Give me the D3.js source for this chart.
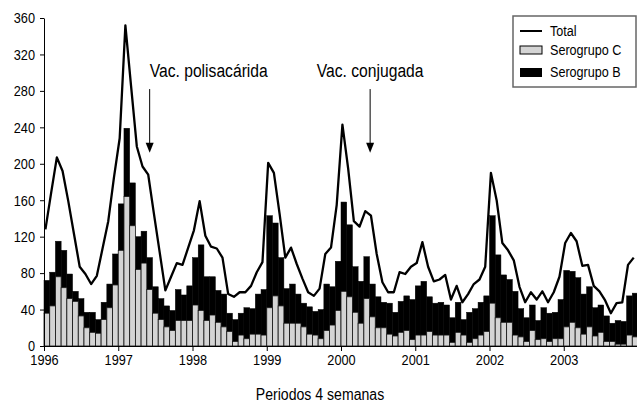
<!DOCTYPE html>
<html>
<head>
<meta charset="utf-8">
<script src="https://cdn.jsdelivr.net/npm/d3@7"></script>
<style>
  body { margin: 0; background: #fff; }
  svg text { font-family: "Liberation Sans", Arial, sans-serif; fill: #000; }
</style>
</head>
<body>
<svg id="chart" width="637" height="404"></svg>
<script>
// cases per 4-week period, 13 periods per year, 1996-2003
const serogrupoC = [
  36, 44, 76, 64, 52, 49, 33, 20, 15, 14, 29, 42, 67,
  105, 164, 132, 84, 91, 62, 36, 29, 21, 17, 28, 28, 28,
  45, 39, 28, 34, 26, 21, 16, 5, 12, 8, 13, 13, 12,
  42, 55, 44, 25, 25, 25, 21, 13, 12, 8, 17, 23, 39,
  60, 54, 37, 25, 52, 32, 20, 20, 13, 11, 15, 17, 7,
  12, 12, 16, 12, 12, 12, 4, 15, 12, 4, 8, 12, 16,
  47, 31, 26, 26, 12, 10, 5, 17, 7, 8, 5, 8, 8,
  21, 26, 20, 13, 21, 11, 15, 5, 5, 2, 2, 12, 10
];
const serogrupoB = [
  36, 37, 39, 41, 27, 11, 19, 17, 22, 15, 19, 26, 34,
  51, 75, 47, 36, 35, 35, 29, 23, 23, 22, 34, 28, 38,
  52, 72, 48, 42, 35, 36, 20, 24, 24, 34, 28, 44, 50,
  101, 80, 53, 38, 43, 32, 26, 30, 26, 32, 51, 42, 54,
  98, 79, 50, 46, 46, 36, 34, 28, 34, 26, 34, 38, 44,
  54, 59, 38, 35, 36, 33, 27, 33, 17, 33, 33, 36, 39,
  96, 69, 52, 47, 48, 31, 26, 28, 21, 34, 31, 29, 43,
  62, 56, 55, 44, 44, 31, 30, 28, 20, 26, 25, 43, 48
];
const total = [
  128, 168, 207, 192, 159, 123, 87, 79, 68, 77, 107, 137, 185,
  228, 352, 285, 219, 197, 188, 145, 103, 61, 76, 91, 89, 108,
  127, 159, 121, 109, 107, 97, 57, 54, 59, 59, 66, 81, 92,
  201, 190, 145, 97, 108, 90, 74, 59, 55, 63, 101, 108, 155,
  243, 195, 137, 131, 148, 143, 101, 70, 59, 59, 81, 79, 87,
  91, 114, 87, 71, 73, 78, 51, 66, 48, 57, 68, 73, 87,
  190, 160, 113, 105, 94, 65, 48, 59, 51, 60, 48, 59, 76,
  113, 124, 115, 88, 89, 66, 60, 50, 36, 47, 48, 89, 97
];
const years = ["1996", "1997", "1998", "1999", "2000", "2001", "2002", "2003"];
const yTicks = [0, 40, 80, 120, 160, 200, 240, 280, 320, 360];
const notes = [
  { label: "Vac. polisacárida", period: 18.5, anchor: "start" },
  { label: "Vac. conjugada", period: 57.1, anchor: "middle" }
];

// the reference font is a condensed face: squeeze Liberation Sans to match
function squeeze(sel, f) {
  sel.each(function () {
    const w = this.getComputedTextLength();
    this.setAttribute("textLength", w * f);
    this.setAttribute("lengthAdjust", "spacingAndGlyphs");
  });
}

const periods = d3.range(total.length);
const svg = d3.select("#chart");

const x = d3.scaleBand().domain(periods).range([44, 638]).padding(0);
const xLin = d3.scaleLinear().domain([0, periods.length]).range([44, 638]);
const y = d3.scaleLinear().domain([0, 360]).range([346, 18]);
const bw = x.bandwidth();

// stacked bars: C at the bottom, B on top
svg.append("g").selectAll("rect")
  .data(periods)
  .enter().append("rect")
  .attr("x", i => x(i))
  .attr("y", i => y(serogrupoC[i] + serogrupoB[i]))
  .attr("width", bw)
  .attr("height", i => y(serogrupoC[i]) - y(serogrupoC[i] + serogrupoB[i]))
  .attr("fill", "#000")
  .attr("stroke", "#000")
  .attr("stroke-width", 0.5);

svg.append("g").selectAll("rect")
  .data(periods)
  .enter().append("rect")
  .attr("x", i => x(i))
  .attr("y", i => y(serogrupoC[i]))
  .attr("width", bw)
  .attr("height", i => y(0) - y(serogrupoC[i]))
  .attr("fill", "#d4d4d4")
  .attr("stroke", "#111")
  .attr("stroke-width", 0.8);

// total line
const line = d3.line()
  .x(i => x(i) + bw * 0.25)
  .y(i => y(total[i]));

svg.append("path")
  .datum(periods)
  .attr("d", line)
  .attr("fill", "none")
  .attr("stroke", "#000")
  .attr("stroke-width", 2.3)
  .attr("stroke-linejoin", "round");

// axes
const yAxis = svg.append("g")
  .attr("transform", "translate(44,0)")
  .call(d3.axisLeft(y).tickValues(yTicks).tickSize(4).tickSizeOuter(0));
yAxis.selectAll("text").attr("font-size", 15).attr("x", -9);
squeeze(yAxis.selectAll("text"), 0.85);

const xAxis = svg.append("g")
  .attr("transform", "translate(0,346)")
  .call(d3.axisBottom(xLin)
    .tickValues(years.map((d, k) => k * 13))
    .tickFormat((d, k) => years[k])
    .tickSize(5).tickSizeOuter(0));
xAxis.selectAll("text").attr("font-size", 15).attr("y", 8);
squeeze(xAxis.selectAll("text"), 0.85);
svg.selectAll(".domain, .tick line").attr("stroke", "#000").attr("stroke-width", 1);

const title = svg.append("text")
  .attr("x", 320).attr("y", 400)
  .attr("text-anchor", "middle")
  .attr("font-size", 16)
  .text("Periodos 4 semanas");
squeeze(title, 0.88);

// vaccine annotations
const ann = svg.append("g").selectAll("g").data(notes).enter().append("g");
const annText = ann.append("text")
  .attr("x", d => xLin(d.period))
  .attr("y", y(295))
  .attr("text-anchor", d => d.anchor)
  .attr("font-size", 18)
  .text(d => d.label);
squeeze(annText, 0.87);
ann.append("line")
  .attr("x1", d => xLin(d.period)).attr("x2", d => xLin(d.period))
  .attr("y1", y(282)).attr("y2", y(220))
  .attr("stroke", "#000").attr("stroke-width", 1);
ann.append("path")
  .attr("d", d => {
    const px = xLin(d.period), py = y(212);
    return `M${px - 4},${py - 10}L${px + 4},${py - 10}L${px},${py}Z`;
  })
  .attr("fill", "#000");

// legend
const lg = svg.append("g").attr("transform", "translate(513,16)");
lg.append("rect")
  .attr("width", 123).attr("height", 71)
  .attr("fill", "#fff").attr("stroke", "#666").attr("stroke-width", 1.5);
lg.append("line")
  .attr("x1", 7).attr("x2", 29).attr("y1", 15).attr("y2", 15)
  .attr("stroke", "#000").attr("stroke-width", 2);
lg.append("rect")
  .attr("x", 7).attr("y", 30).attr("width", 22).attr("height", 8)
  .attr("fill", "#d4d4d4").attr("stroke", "#000").attr("stroke-width", 1);
lg.append("rect")
  .attr("x", 7).attr("y", 52).attr("width", 22).attr("height", 9)
  .attr("fill", "#000");
const legendLabels = ["Total", "Serogrupo C", "Serogrupo B"];
const lgText = lg.selectAll("text.lab")
  .data(legendLabels)
  .enter().append("text")
  .attr("class", "lab")
  .attr("x", 37)
  .attr("y", (d, k) => [15, 34, 56][k])
  .attr("dy", "0.35em")
  .attr("font-size", 14)
  .text(d => d);
squeeze(lgText, 0.9);
</script>
</body>
</html>
